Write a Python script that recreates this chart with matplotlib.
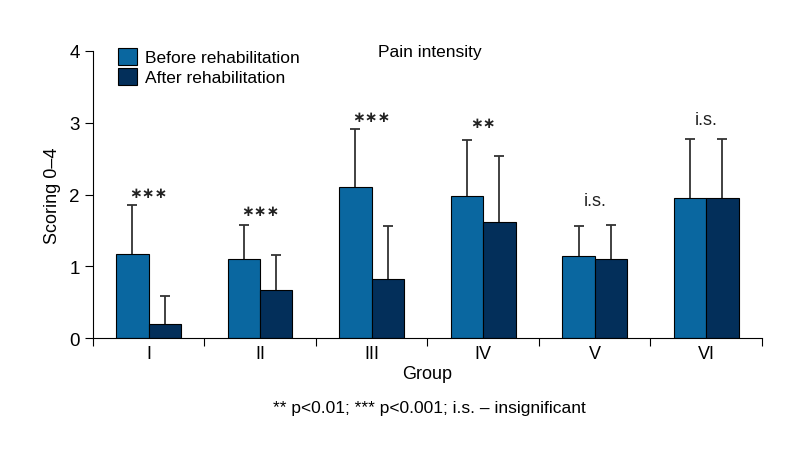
import numpy as np
import matplotlib
matplotlib.use("Agg")
import matplotlib.pyplot as plt

groups = ["I", "II", "III", "IV", "V", "VI"]
before = [1.17, 1.10, 2.10, 1.98, 1.14, 1.95]
before_sd = [0.68, 0.47, 0.81, 0.78, 0.42, 0.83]
after = [0.20, 0.67, 0.82, 1.61, 1.10, 1.95]
after_sd = [0.39, 0.48, 0.74, 0.93, 0.47, 0.83]
signif = ["\u2217\u2217\u2217", "\u2217\u2217\u2217", "\u2217\u2217\u2217",
          "\u2217\u2217", "i.s.", "i.s."]
signif_y = [2.03, 1.78, 3.08, 3.0, 1.91, 3.04]

plt.rcParams["font.family"] = ["Liberation Sans", "DejaVu Sans"]

c_before = "#0a67a0"
c_after = "#032f5a"
FS = 12.5

fig = plt.figure(figsize=(8, 4.6), dpi=100)
ax = fig.add_axes([0.116, 0.263, 0.8365, 0.624])

x = np.arange(len(groups)) + 0.5
w = 0.29
ax.bar(x - w / 2, before, w, color=c_before, edgecolor="black", linewidth=0.8,
       label="Before rehabilitation", zorder=2)
ax.bar(x + w / 2, after, w, color=c_after, edgecolor="black", linewidth=0.8,
       label="After rehabilitation", zorder=2)

# symmetric error bars drawn behind the bars, so only the upper half shows
ax.errorbar(x - w / 2, before, yerr=before_sd, fmt="none",
            ecolor="#333333", elinewidth=1.3, capsize=3.5, capthick=1.3, zorder=1)
ax.errorbar(x + w / 2, after, yerr=after_sd, fmt="none",
            ecolor="#333333", elinewidth=1.3, capsize=3.5, capthick=1.3, zorder=1)

for xi, s, yi in zip(x, signif, signif_y):
    if s.startswith("i"):
        ax.text(xi, yi, s, ha="center", va="center", fontsize=FS + 0.5, color="#222222")
    else:
        ax.text(xi, yi, s, ha="center", va="center", fontsize=11,
                color="#222222", fontweight="bold", family="DejaVu Sans")

ax.set_xlim(0, 6)
ax.set_ylim(0, 4)
ax.set_xticks(np.arange(7))
ax.set_xticklabels([])
ax.set_xticks(x, minor=True)
ax.set_xticklabels(groups, minor=True, fontsize=13)
ax.tick_params(axis="x", which="minor", length=0, pad=5)
ax.tick_params(axis="x", which="major", length=6, direction="out")
ax.set_yticks([0, 1, 2, 3, 4])
ax.tick_params(axis="y", length=6, labelsize=13.5)
for sp in ["top", "right"]:
    ax.spines[sp].set_visible(False)

ax.set_xlabel("Group", fontsize=13, labelpad=2)
ax.set_ylabel("Scoring 0\u20134", fontsize=13, labelpad=6)
ax.text(3.025, 3.99, "Pain intensity", ha="center", va="center", fontsize=FS)

ax.legend(loc="upper left", bbox_to_anchor=(0.038, 1.01), frameon=False,
          fontsize=FS, handlelength=1.1, handleheight=1.1, handletextpad=0.45,
          labelspacing=0.15, borderaxespad=0, borderpad=0)

fig.text(0.537, 0.111, "** p<0.01; *** p<0.001; i.s. \u2013 insignificant",
         ha="center", va="center", fontsize=FS)

fig.savefig("out.png", dpi=100)
